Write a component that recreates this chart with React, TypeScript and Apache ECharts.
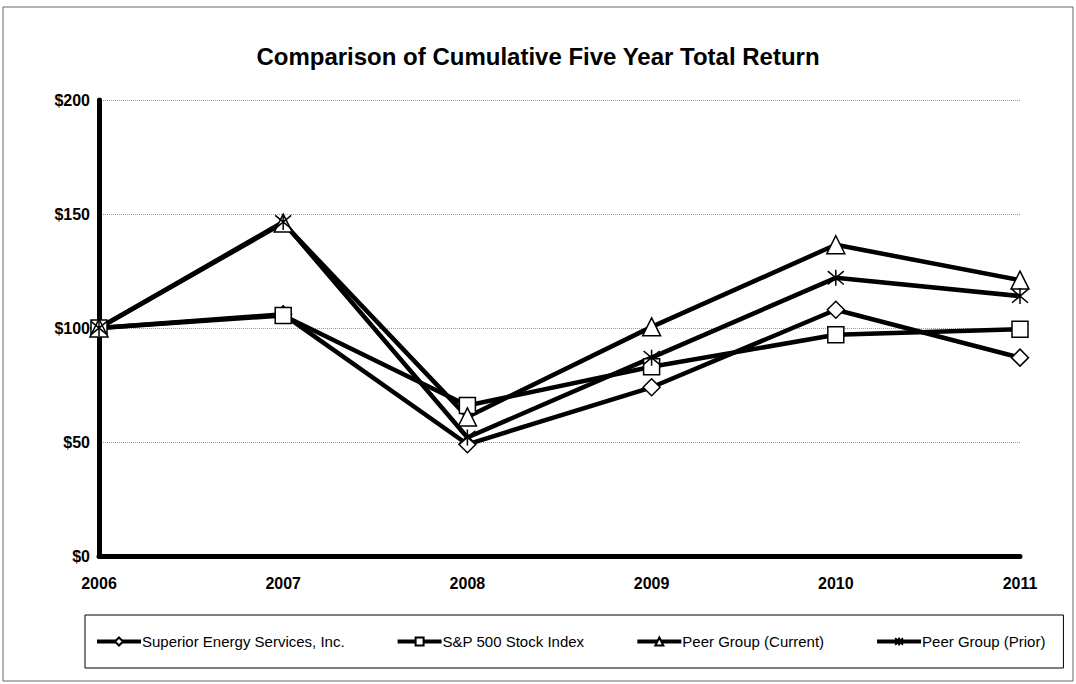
import React, { useEffect, useRef } from "react";
import * as echarts from "echarts";

const years = ["2006", "2007", "2008", "2009", "2010", "2011"];
const superior = [100, 106, 49, 74, 108, 87];
const sp500 = [100, 105.5, 66, 83, 97, 99.5];
const peerCurrent = [100, 146, 61, 100.5, 136.5, 121];
const peerPrior = [100, 146.5, 52, 87, 122, 114];
const yTicks = [0, 50, 100, 150, 200];

const asterisk = "path://M0,0L10,10M10,0L0,10M5,-1L5,11";

export default function App() {
  const ref = useRef<HTMLDivElement>(null);
  useEffect(() => {
    const chart = echarts.init(ref.current!, undefined, { renderer: "svg" });
    const mk = (name: string, data: number[], symbol: string, size: number) => ({
      name,
      type: "line",
      data,
      symbol,
      symbolSize: size,
      showAllSymbol: true,
      lineStyle: { color: "#000", width: 4.5 },
      itemStyle: { color: "#fff", borderColor: "#000", borderWidth: 1.5 },
      emphasis: { disabled: true },
    });
    const star = {
      ...mk("Peer Group (Prior)", peerPrior, asterisk, 16),
      itemStyle: { color: "none", borderColor: "#000", borderWidth: 1.5 },
    };
    chart.setOption({
      animation: false,
      backgroundColor: "#fff",
      title: {
        text: "Comparison of Cumulative Five Year Total Return",
        left: "center",
        top: 39,
        textStyle: { fontFamily: "Liberation Sans, Arial", fontWeight: "bold", fontSize: 24, color: "#000" },
      },
      graphic: [
        {
          type: "rect",
          shape: { x: 3, y: 7, width: 1070, height: 674 },
          style: { fill: "none", stroke: "#666", lineWidth: 1 },
          silent: true,
        },
      ],
      legend: {
        bottom: 16,
        left: 85,
        padding: [19, 18, 19, 10],
        itemGap: 51,
        itemWidth: 44,
        itemHeight: 10,
        borderColor: "#000",
        borderWidth: 1,
        lineStyle: { width: 4, color: "#000" },
        textStyle: { fontFamily: "Liberation Sans, Arial", fontSize: 15, color: "#000", padding: [0, 0, 0, -4] },
        data: ["Superior Energy Services, Inc.", "S&P 500 Stock Index", "Peer Group (Current)", "Peer Group (Prior)"],
      },
      grid: { left: 99, right: 56, top: 100, bottom: 128 },
      xAxis: {
        type: "category",
        data: years,
        boundaryGap: false,
        axisLine: { lineStyle: { color: "#000", width: 5 } },
        axisTick: { show: true, lineStyle: { color: "#000", width: 2 }, length: 3, alignWithLabel: true },
        axisLabel: { fontFamily: "Liberation Sans, Arial", fontWeight: "bold", fontSize: 16, color: "#000", margin: 19 },
      },
      yAxis: {
        type: "value",
        min: 0,
        max: 200,
        interval: 50,
        axisLine: { show: true, lineStyle: { color: "#000", width: 5 } },
        axisTick: { show: false },
        splitLine: { lineStyle: { color: "#999", type: "dotted", width: 1 } },
        axisLabel: {
          fontFamily: "Liberation Sans, Arial",
          fontWeight: "bold",
          fontSize: 16,
          color: "#000",
          margin: 9,
          formatter: (v: number) => (yTicks.includes(v) ? "$" + v : ""),
        },
      },
      series: [
        mk("Superior Energy Services, Inc.", superior, "diamond", 17),
        mk("S&P 500 Stock Index", sp500, "rect", 16),
        mk("Peer Group (Current)", peerCurrent, "triangle", 18),
        star,
      ],
    });
    return () => chart.dispose();
  }, []);
  return <div ref={ref} style={{ position: "absolute", left: 0, top: 0, width: 1076, height: 684 }} />;
}
